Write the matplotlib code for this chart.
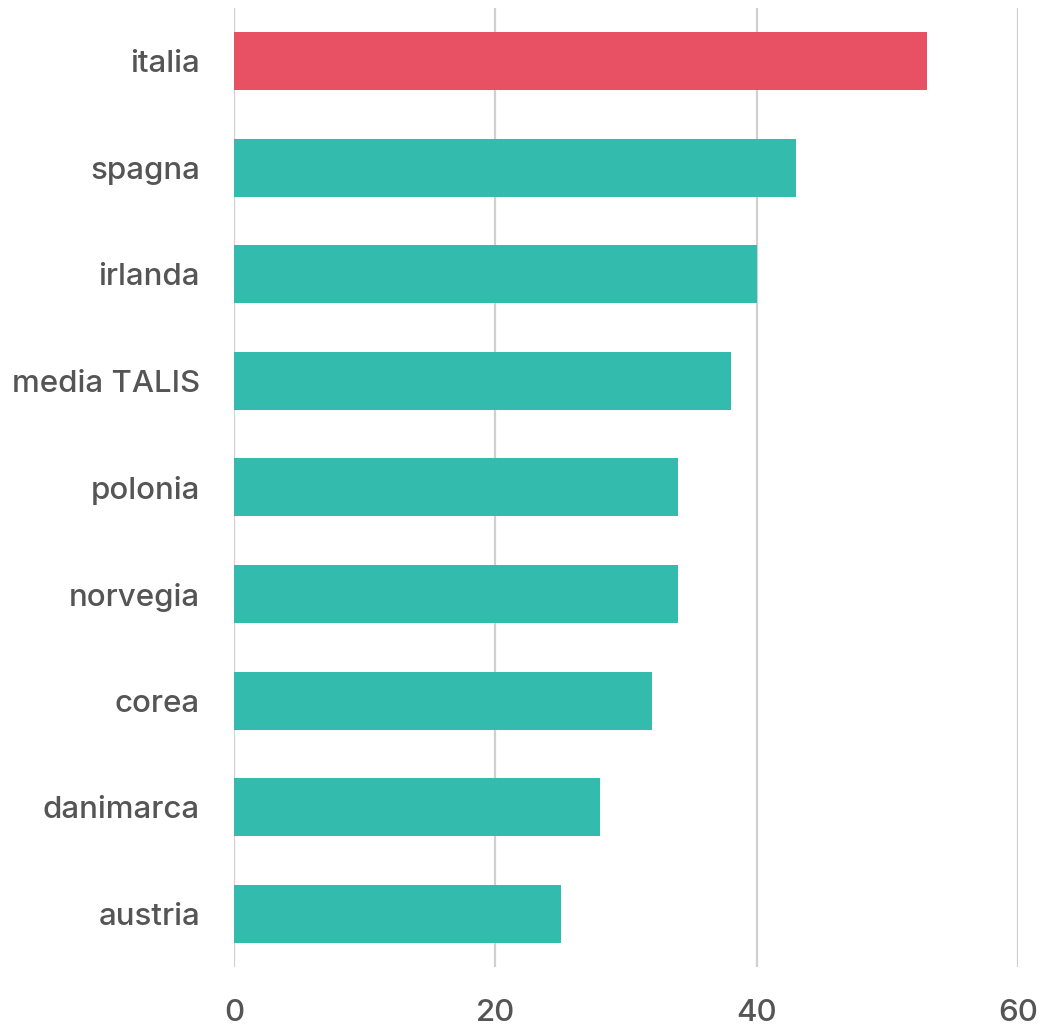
import matplotlib
matplotlib.use("Agg")
import matplotlib.pyplot as plt

# Percent values per country, top to bottom
countries = ["italia", "spagna", "irlanda", "media TALIS", "polonia",
             "norvegia", "corea", "danimarca", "austria"]
values = [53, 43, 40, 38, 34, 34, 32, 28, 25]
highlight = "italia"
x_ticks = [0, 20, 40, 60]

plt.rcParams["font.family"] = ["Inter", "DejaVu Sans"]
plt.rcParams["font.weight"] = "medium"

fig = plt.figure(figsize=(10.42, 10.31), dpi=100)
ax = fig.add_axes([0.2246, 0.0621, 0.7524, 0.9302])

colors = ["#e85163" if c == highlight else "#33bbad" for c in countries]
ax.barh(range(len(countries)), values, height=0.545, color=colors, zorder=3)

ax.set_yticks(range(len(countries)))
ax.set_yticklabels(countries)
ax.set_ylim(len(countries) - 0.5, -0.5)
ax.set_xlim(0, 60)
ax.set_xticks(x_ticks)

ax.grid(axis="x", color="#d0d0d0", linewidth=1.6, zorder=0)
ax.grid(axis="y", visible=False)
for s in ax.spines.values():
    s.set_visible(False)

ax.tick_params(axis="y", length=0, pad=24.5, labelsize=22.5, labelcolor="#555555")
ax.tick_params(axis="x", length=0, pad=23, labelsize=22.5, labelcolor="#555555")

fig.savefig("out.png", dpi=100, facecolor="white")
